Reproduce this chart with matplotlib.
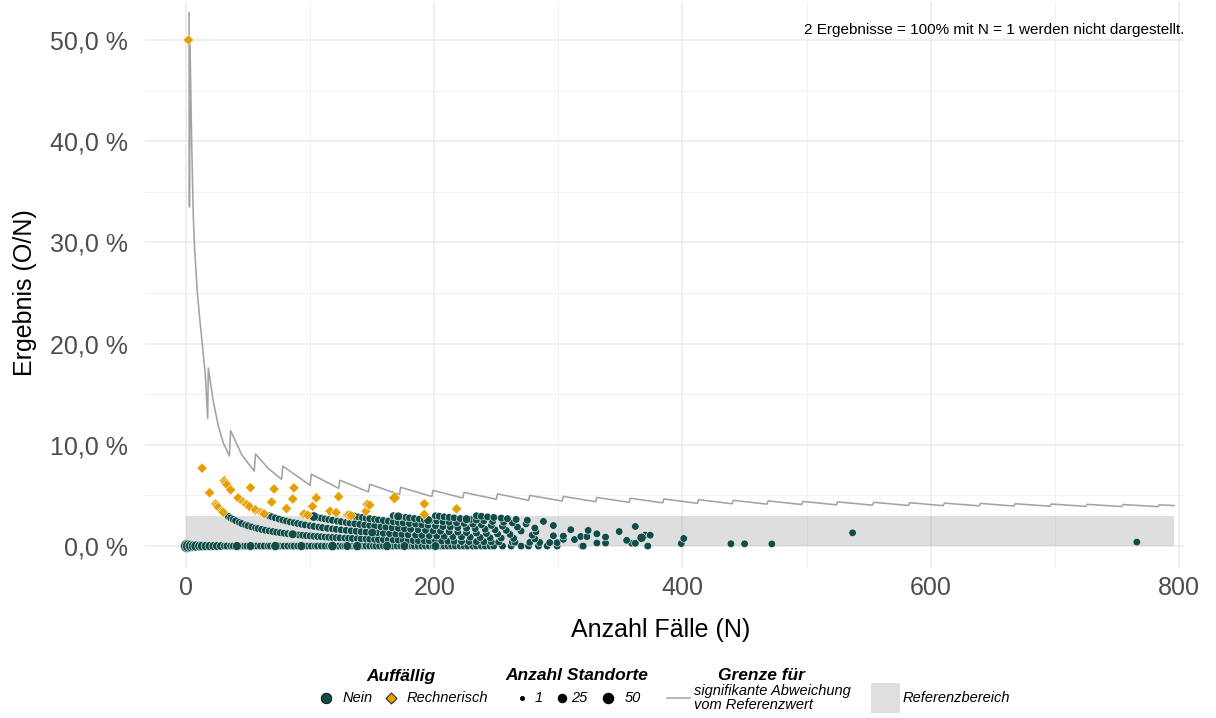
import numpy as np
import matplotlib.pyplot as plt
from matplotlib.patches import Rectangle

plt.rcParams['font.family'] = ['Liberation Sans', 'DejaVu Sans']

# ---- data ----
# grenze (signifikante abweichung), vertices of the sawtooth line in %
limit_n = [2.5, 2.8, 3.2, 4.5, 5.9, 7, 9, 11.3, 13.5, 15.6, 17.5, 18,
           22, 26, 30, 35, 36, 45, 55, 56, 66, 77, 78,
           100, 101, 123, 124, 147, 148, 172, 173, 198, 199, 223, 224,
           250, 251, 276, 277, 303, 304, 330, 331, 357, 358, 384, 385,
           412, 413, 440, 441, 468, 469, 496, 497, 524, 525, 553, 554,
           582, 583, 610, 611, 639, 640, 667, 668, 696, 697, 725, 726,
           754, 755, 783, 784, 796]
limit_pct = [52.7, 33.5, 50.0, 40.5, 32.6, 29.3, 25.3, 22.2, 19.5, 16.9, 12.6, 17.6,
             14.3, 11.9, 10.2, 8.9, 11.4, 9.0, 7.4, 9.1, 7.7, 6.6, 7.9,
             6.0, 7.1, 5.7, 6.5, 5.35, 6.1, 5.1, 5.8, 4.9, 5.5, 4.75, 5.3,
             4.62, 5.15, 4.52, 5.0, 4.45, 4.9, 4.38, 4.8, 4.32, 4.72, 4.27, 4.65,
             4.22, 4.58, 4.18, 4.52, 4.14, 4.46, 4.1, 4.41, 4.07, 4.36, 4.04, 4.32,
             4.01, 4.28, 3.99, 4.24, 3.97, 4.21, 3.95, 4.18, 3.93, 4.15, 3.92, 4.12,
             3.9, 4.1, 3.89, 4.07, 4.0]

# referenzbereich 0 - 3 %
ref_n = [0, 796]
ref_lo = 0.0
ref_hi = 3.0

# auffaellig: rechnerisch (N, O, Anzahl Standorte)
rech_n = [2, 13, 19, 24, 25, 26, 29, 30, 31, 32, 33, 36, 42, 46, 48, 49, 51, 56, 60, 62, 63,
          52, 69, 81, 95, 98, 71, 86, 102, 116, 121, 130, 131, 133,
          87, 105, 145, 123, 146, 148, 192, 168, 192, 218]
rech_o = [1, 1, 1, 1, 1, 1, 1, 1, 2, 2, 2, 2, 2, 2, 2, 2, 2, 2, 2, 2, 2,
          3, 3, 3, 3, 3, 4, 4, 4, 4, 4, 4, 4, 4,
          5, 5, 5, 6, 6, 6, 6, 8, 8, 8]
rech_size = [1, 1, 1, 1, 1, 1, 1, 1, 1, 1, 1, 1, 1, 1, 1, 1, 1, 1, 1, 1, 1,
             1, 1, 1, 1, 1, 1, 1, 1, 1, 1, 1, 1, 1,
             1, 1, 1, 1, 1, 1, 1, 3, 1, 1]

# nicht auffaellig, O = 0 with small N (bigger Standort counts)
zero_head_n = [1, 2, 4, 6, 8, 11, 13, 16, 19, 22, 25, 28]
zero_head_size = [50, 30, 20, 12, 10, 8, 6, 5, 4, 3, 3, 2]

# nicht auffaellig, N values per number of events O (one Standort each)
nein_o0_n = [31, 33, 36, 38, 41, 44, 47, 49, 52, 55, 57, 60, 63, 66, 68, 71, 74, 76,
             79, 82, 85, 87, 90, 93, 96, 98, 101, 104, 106, 109, 112, 115, 117, 120,
             123, 126, 128, 131, 134, 137, 139, 142, 145, 148, 151, 153, 156, 159,
             162, 165, 167, 170, 173, 176, 179, 182, 184, 187, 190, 193, 196, 199,
             202, 205, 208, 211, 214, 217, 221, 224, 227, 231, 234, 238, 241, 245,
             248, 255, 262, 270, 276, 284, 291, 299, 319, 320, 372]
nein_o1_n = [34, 36, 38, 40, 43, 45, 48, 50, 53, 56, 58, 61, 64, 67, 70, 73, 76, 79,
             82, 85, 88, 91, 94, 97, 100, 103, 106, 109, 112, 115, 118, 121, 124, 128,
             131, 134, 138, 141, 145, 148, 152, 155, 159, 163, 167, 171, 175, 179, 183,
             187, 192, 196, 201, 206, 211, 216, 222, 228, 234, 240, 246, 252, 263, 265,
             277, 285, 293, 299, 331, 338, 359, 362, 399, 439, 450, 472]
nein_o2_n = [67, 69, 72, 75, 78, 81, 84, 87, 90, 93, 96, 100, 103, 107, 110, 114, 118,
             121, 125, 129, 133, 137, 141, 145, 150, 154, 159, 164, 169, 174, 179, 185,
             190, 196, 202, 208, 215, 222, 229, 237, 245, 254, 264, 281, 304, 313, 355]
nein_o3_n = [101, 103, 106, 109, 112, 115, 118, 122, 125, 129, 132, 136, 140, 144, 148,
             152, 157, 161, 166, 171, 176, 181, 187, 193, 199, 205, 212, 219, 226, 234,
             242, 251, 261, 279, 296, 304, 318, 323, 338, 401, 766]
nein_o4_n = [134, 136, 139, 142, 145, 148, 152, 155, 159, 163, 167, 171, 175, 180, 185,
             190, 195, 201, 207, 213, 219, 226, 233, 241, 249, 258, 270, 282, 331, 370,
             374]
nein_o5_n = [167, 170, 173, 177, 180, 184, 188, 192, 197, 202, 207, 212, 218, 224, 231,
             238, 246, 255, 267, 281, 310, 324, 349]
nein_o6_n = [201, 204, 208, 212, 216, 221, 226, 229, 234, 240, 247, 256, 263, 274, 296]
nein_o7_n = [234, 238, 243, 248, 254, 259, 266, 275, 288, 362, 537]

# nicht auffaellig with more than one Standort
nein_big_n = [41, 52, 72, 93, 118, 130, 138, 162, 176, 201, 86, 150, 103, 171, 195, 226, 367]
nein_big_o = [0, 0, 0, 0, 0, 0, 0, 0, 0, 0, 1, 2, 3, 5, 5, 6, 3]
nein_big_size = [4, 3, 5, 4, 6, 3, 5, 4, 3, 3, 3, 3, 6, 3, 3, 3, 5]

x_ticks = [0, 200, 400, 600, 800]
y_ticks = [0, 10, 20, 30, 40, 50]

teal = '#104C48'
orange = '#E69F00'
line_grey = '#A3A3A3'


def marker_px(v):
    # ggplot style area scale, 1 .. 50
    return 7.6 + 5.6 * np.sqrt((np.asarray(v, dtype=float) - 1) / 49)


def circle_s(v):
    return (marker_px(v) * 0.72) ** 2


def diamond_s(v):
    return (marker_px(v) * 0.72) ** 2 * 0.95


fig = plt.figure(figsize=(12.16, 7.18), dpi=100)
ax = fig.add_axes([145 / 1216, 1 - 568 / 718, (1184 - 145) / 1216, 566 / 718])
ax.set_xlim(-33, 804)
ax.set_ylim(-2.17, 53.75)

for s in ax.spines.values():
    s.set_visible(False)
ax.set_xticks(x_ticks)
ax.set_xticks([100, 300, 500, 700], minor=True)
ax.set_yticks(y_ticks)
ax.set_yticks([5, 15, 25, 35, 45], minor=True)
ax.set_yticklabels([f'{t:.1f} %'.replace('.', ',') for t in y_ticks])
ax.tick_params(which='both', length=0)
ax.tick_params(axis='both', labelsize=18, labelcolor='#4D4D4D')
ax.tick_params(axis='y', pad=12)
ax.tick_params(axis='x', pad=6)
ax.grid(which='major', color='#EBEBEB', lw=1.1)
ax.grid(which='minor', color='#EFEFEF', lw=0.6)
ax.set_axisbelow(True)

# referenzbereich
ax.fill_between(ref_n, ref_lo, ref_hi, color='#7F7F7F', alpha=0.25, lw=0, zorder=1)

# grenze
ax.plot(limit_n, limit_pct, color=line_grey, lw=1.15, zorder=2)

pkw = dict(c=teal, edgecolors='white', linewidths=0.4, zorder=3)

# nein points
ax.scatter(zero_head_n, [0] * len(zero_head_n), s=circle_s(zero_head_size), **pkw)
rows = [nein_o0_n, nein_o1_n, nein_o2_n, nein_o3_n, nein_o4_n, nein_o5_n, nein_o6_n, nein_o7_n]
for o, ns in enumerate(rows):
    ns = np.array(ns, dtype=float)
    ax.scatter(ns, 100 * o / ns, s=circle_s(np.ones(len(ns))), **pkw)
bn = np.array(nein_big_n, dtype=float)
ax.scatter(bn, 100 * np.array(nein_big_o) / bn, s=circle_s(nein_big_size), **pkw)

# rechnerisch
rn = np.array(rech_n, dtype=float)
ax.scatter(rn, 100 * np.array(rech_o) / rn, s=diamond_s(rech_size), marker='D',
           c=orange, edgecolors='white', linewidths=0.4, zorder=4)

fig.text(1184 / 1216, 1 - 30 / 718, '2 Ergebnisse = 100% mit N = 1 werden nicht dargestellt.',
         ha='right', va='center', fontsize=11)
fig.text(661 / 1216, 1 - 630 / 718, 'Anzahl Fälle (N)', ha='center', va='center', fontsize=18)
fig.text(25 / 1216, 1 - 293 / 718, 'Ergebnis (O/N)', ha='center', va='center',
         rotation=90, fontsize=18)

# legend, drawn in pixel space
lax = fig.add_axes([0, 0, 1, 1])
lax.set_xlim(0, 1216)
lax.set_ylim(718, 0)
lax.axis('off')
lax.patch.set_alpha(0)

ty, iy = 676, 698
tkw = dict(ha='center', va='center', fontsize=12.5, fontweight='bold', fontstyle='italic')
ikw = dict(ha='left', va='center', fontsize=10.5, fontstyle='italic')
lax.text(401, ty, 'Auffällig', **tkw)
lax.text(577, ty, 'Anzahl Standorte', **tkw)
lax.text(761, ty, 'Grenze für', **tkw)

lax.scatter([326], [iy], s=(10.5 * 0.72) ** 2, c=teal, edgecolors='black', linewidths=0.6)
lax.text(343, iy, 'Nein', **ikw)
lax.scatter([391], [iy], s=(10.5 * 0.72) ** 2 * 0.55, marker='D', c=orange,
            edgecolors='black', linewidths=0.6)
lax.text(407, iy, 'Rechnerisch', **ikw)

for xs, d, lbl, xt in [(522, 5, '1', 535), (562, 9.5, '25', 571), (608, 11.5, '50', 625)]:
    lax.scatter([xs], [iy], s=(d * 0.72) ** 2, c='black', linewidths=0)
    lax.text(xt, iy, lbl, **ikw)

lax.plot([667, 690], [iy, iy], color=line_grey, lw=1.1)
lax.text(694, iy, 'signifikante Abweichung\nvom Referenzwert', linespacing=0.95, **ikw)
lax.add_patch(Rectangle((871, 683), 29, 30, color='#DFDFDF', lw=0))
lax.text(903, iy, 'Referenzbereich', **ikw)

fig.savefig('out.png', dpi=100)
